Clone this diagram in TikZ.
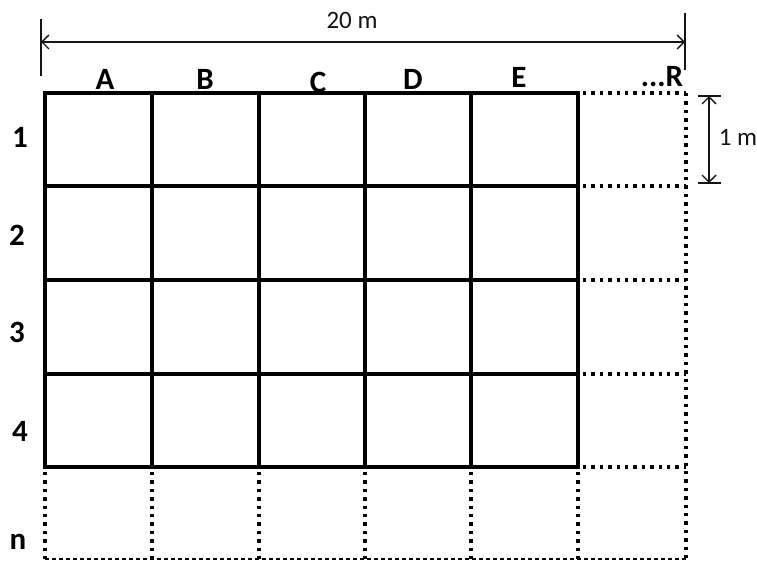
\documentclass[tikz,border=0pt]{standalone}
\usepackage{fontspec}
\setmainfont{Carlito}
\usepackage{tikz}
\usetikzlibrary{arrows.meta}
\definecolor{gridclr}{RGB}{0,0,0}
\definecolor{dimclr}{RGB}{20,20,20}
\tikzset{
  % grid lines
  gridline/.style  = {line width=3.6pt, draw=gridclr, line cap=rect},
  griddot/.style   = {line width=3.4pt, draw=gridclr, dash pattern=on 3.4pt off 5pt},
  gridthin/.style  = {line width=2pt, draw=gridclr, dash pattern=on 4pt off 3pt},
  % dimension lines
  dimline/.style   = {{Straight Barb[length=7pt,width=14pt]}-{Straight Barb[length=7pt,width=14pt]}, line width=1.4pt, dimclr},
  dimtick/.style   = {line width=1.4pt, dimclr},
  dimlabel/.style  = {font=\fontsize{25}{28}\selectfont, text=dimclr, inner sep=1pt},
  % labels
  collab/.style    = {font=\fontsize{31}{33}\selectfont\bfseries, inner sep=0pt},
  rowlab/.style    = {font=\fontsize{31}{33}\selectfont\bfseries, inner sep=0pt},
}
\begin{document}
\begin{tikzpicture}[x=1pt, y=-1pt]
  \useasboundingbox (0,0) rectangle (757,561);
  % solid part of the grid
  \foreach \yy in {93,186,280,374,467}
    \draw[gridline] (45,\yy) -- (578,\yy);
  \foreach \xx in {45,152,259,365,471,578}
    \draw[gridline] (\xx,93) -- (\xx,467);
  % dotted continuation
  \foreach \yy in {93,186,280,374,467}
    \draw[griddot] (583,\yy) -- (686,\yy);
  \draw[griddot] (686,93) -- (686,560);
  \foreach \xx in {45,152,259,365,471,578}
    \draw[griddot] (\xx,472) -- (\xx,560);
  \draw[gridthin] (45,559) -- (686,559);
  % column labels
  \node[collab] (colA) at (105,79) {A};
  \node[collab] (colB) at (205,79) {B};
  \node[collab] (colC) at (318,82) {C};
  \node[collab] (colD) at (413,79) {D};
  \node[collab] (colE) at (519,77) {E};
  \node[collab] (colR) at (662,77) {...R};
  % row labels
  \node[rowlab] (row1) at (20,137) {1};
  \node[rowlab] (row2) at (17,235) {2};
  \node[rowlab] (row3) at (17,332) {3};
  \node[rowlab] (row4) at (20,431) {4};
  \node[rowlab] (rown) at (18,542) {n};
  % 20 m dimension
  \coordinate (wl) at (41,42);
  \coordinate (wr) at (685,42);
  \draw[dimtick] (41,19) -- (41,76);
  \draw[dimtick] (685,13) -- (685,70);
  \draw[dimline] (wl) -- (wr);
  \node[dimlabel] (width) at (352,20) {20 m};
  % 1 m dimension
  \coordinate (ht) at (709,96);
  \coordinate (hb) at (709,183);
  \draw[dimtick] (698,96) -- (721,96);
  \draw[dimtick] (698,183) -- (721,183);
  \draw[dimline] (ht) -- (hb);
  \node[dimlabel] (height) at (738,137) {1 m};
\end{tikzpicture}
\end{document}
